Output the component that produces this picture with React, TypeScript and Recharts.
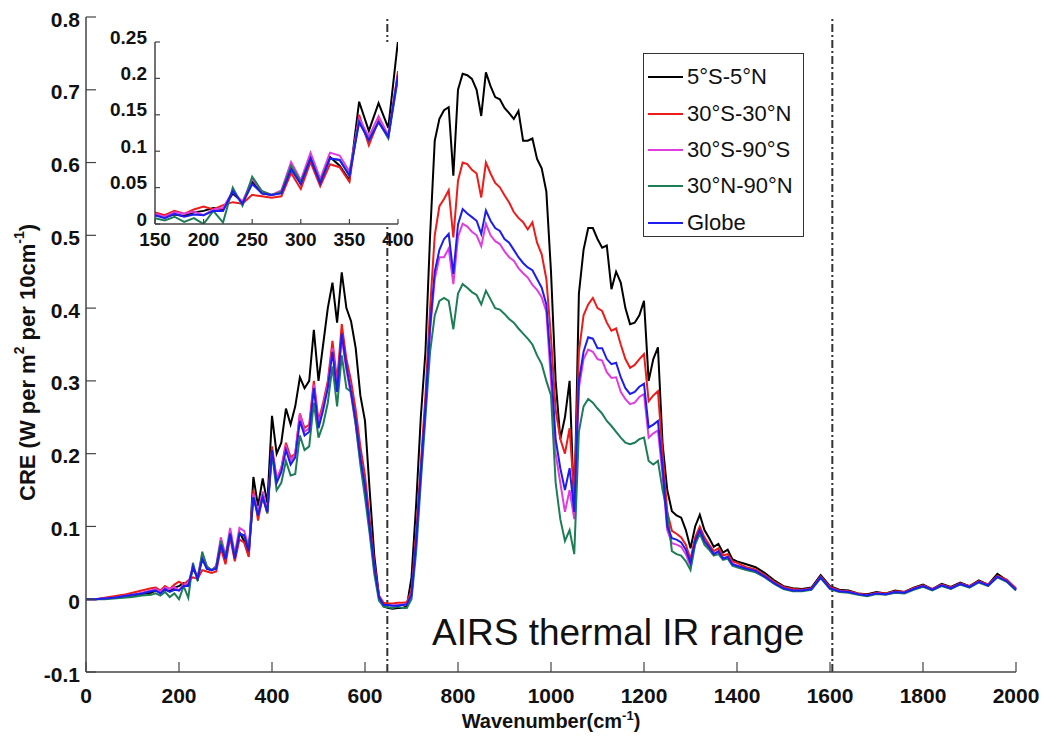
import React from 'react';
import { LineChart, Line, XAxis, YAxis, ReferenceLine, Legend, CartesianGrid, Label } from 'recharts';

const FONT = '"Liberation Sans", Arial, Helvetica, sans-serif';

const wavenumber = [
  0, 20, 40, 60, 80, 100, 120, 140,
  150, 160, 170, 180, 190, 200, 210, 220, 230, 240, 250, 260, 270, 280, 290, 300, 310, 320, 330, 340, 350, 360, 370, 380, 390, 400,
  410, 420, 430, 440, 450, 460, 470, 480, 490, 500, 510, 520, 530, 540, 550, 560, 570, 580, 590, 600, 610, 620, 630, 640,
  650, 660, 670, 680, 690, 700, 710, 720, 730, 740, 750, 760,
  770, 780, 790, 800, 810, 820, 830, 840, 850, 860, 870, 880, 890, 900, 910, 920, 930, 940, 950, 960, 970, 980, 990, 1000,
  1010, 1020, 1030, 1040, 1050, 1060, 1070, 1080,
  1090, 1100, 1110, 1120, 1130, 1140, 1150, 1160, 1170, 1180, 1190, 1200, 1210, 1220, 1230, 1240, 1250, 1260, 1270, 1280, 1290, 1300, 1310, 1320, 1330, 1340,
  1350, 1360, 1370, 1380, 1390, 1400,
  1420, 1440, 1460, 1480, 1500, 1520, 1540, 1560, 1580, 1600, 1620, 1640, 1660, 1680, 1700, 1720, 1740, 1760, 1780, 1800, 1820, 1840, 1860, 1880, 1900, 1920, 1940, 1960, 1980, 2000,
];

const tropics5S5N = [
  0, 0, 0.001, 0.002, 0.003, 0.005, 0.007, 0.009,
  0.012, 0.010, 0.013, 0.011, 0.016, 0.018, 0.022, 0.020, 0.042, 0.030, 0.058, 0.042, 0.040, 0.044, 0.078, 0.055, 0.092, 0.058, 0.092, 0.080, 0.060, 0.168, 0.128, 0.166, 0.132, 0.252,
  0.200, 0.215, 0.262, 0.240, 0.265, 0.305, 0.290, 0.300, 0.370, 0.300, 0.350, 0.400, 0.435, 0.380, 0.449, 0.400, 0.382, 0.345, 0.280, 0.245, 0.150, 0.060, 0.005, -0.010,
  -0.012, -0.013, -0.012, -0.012, -0.010, 0.030, 0.130, 0.250, 0.340, 0.500, 0.630, 0.660,
  0.672, 0.676, 0.582, 0.700, 0.722, 0.720, 0.715, 0.700, 0.664, 0.724, 0.705, 0.690, 0.687, 0.675, 0.668, 0.660, 0.671, 0.630, 0.630, 0.633, 0.605, 0.592, 0.560, 0.450,
  0.300, 0.220, 0.250, 0.300, 0.120, 0.420, 0.480, 0.510,
  0.510, 0.495, 0.483, 0.486, 0.426, 0.450, 0.435, 0.400, 0.378, 0.380, 0.390, 0.410, 0.300, 0.330, 0.346, 0.213, 0.150, 0.121, 0.115, 0.112, 0.095, 0.070, 0.100, 0.116, 0.095, 0.084,
  0.072, 0.076, 0.064, 0.068, 0.055, 0.052,
  0.048, 0.044, 0.036, 0.026, 0.018, 0.015, 0.014, 0.016, 0.033, 0.018, 0.013, 0.012, 0.008, 0.007, 0.010, 0.008, 0.012, 0.010, 0.016, 0.020, 0.014, 0.021, 0.017, 0.023, 0.018, 0.026, 0.020, 0.035, 0.026, 0.014,
];

const tropics30S30N = [
  0, 0, 0.002, 0.004, 0.006, 0.009, 0.012, 0.015,
  0.016, 0.012, 0.018, 0.014, 0.020, 0.024, 0.020, 0.026, 0.030, 0.028, 0.040, 0.038, 0.036, 0.038, 0.070, 0.048, 0.085, 0.052, 0.082, 0.078, 0.058, 0.150, 0.108, 0.142, 0.118, 0.210,
  0.165, 0.180, 0.215, 0.195, 0.200, 0.255, 0.235, 0.240, 0.300, 0.245, 0.270, 0.300, 0.355, 0.300, 0.378, 0.330, 0.300, 0.260, 0.210, 0.170, 0.110, 0.050, 0.005, -0.005,
  -0.006, -0.006, -0.005, -0.005, -0.004, 0.012, 0.090, 0.185, 0.280, 0.400, 0.500, 0.540,
  0.550, 0.562, 0.497, 0.575, 0.600, 0.598, 0.590, 0.585, 0.552, 0.600, 0.585, 0.572, 0.566, 0.555, 0.545, 0.532, 0.524, 0.518, 0.508, 0.518, 0.490, 0.474, 0.440, 0.360,
  0.260, 0.220, 0.200, 0.235, 0.140, 0.340, 0.390, 0.405,
  0.414, 0.400, 0.396, 0.380, 0.369, 0.372, 0.350, 0.330, 0.318, 0.322, 0.330, 0.337, 0.272, 0.280, 0.286, 0.200, 0.120, 0.094, 0.090, 0.085, 0.075, 0.055, 0.085, 0.100, 0.085, 0.075,
  0.066, 0.070, 0.060, 0.062, 0.052, 0.050,
  0.044, 0.041, 0.033, 0.024, 0.017, 0.014, 0.013, 0.015, 0.031, 0.017, 0.012, 0.011, 0.008, 0.006, 0.009, 0.008, 0.011, 0.010, 0.015, 0.019, 0.014, 0.020, 0.016, 0.022, 0.018, 0.025, 0.020, 0.032, 0.027, 0.015,
];

const south30S90S = [
  0, 0, 0.001, 0.002, 0.004, 0.006, 0.009, 0.012,
  0.014, 0.010, 0.016, 0.014, 0.017, 0.012, 0.020, 0.022, 0.045, 0.030, 0.062, 0.045, 0.040, 0.046, 0.085, 0.060, 0.098, 0.062, 0.098, 0.094, 0.072, 0.145, 0.120, 0.148, 0.122, 0.205,
  0.165, 0.180, 0.210, 0.190, 0.200, 0.255, 0.230, 0.235, 0.295, 0.240, 0.265, 0.295, 0.345, 0.290, 0.360, 0.315, 0.280, 0.240, 0.190, 0.150, 0.095, 0.040, 0.002, -0.008,
  -0.008, -0.009, -0.008, -0.008, -0.007, 0.005, 0.075, 0.170, 0.260, 0.370, 0.440, 0.470,
  0.470, 0.482, 0.433, 0.498, 0.516, 0.512, 0.505, 0.500, 0.485, 0.516, 0.500, 0.492, 0.488, 0.478, 0.470, 0.465, 0.455, 0.448, 0.442, 0.432, 0.425, 0.415, 0.395, 0.300,
  0.200, 0.160, 0.120, 0.150, 0.110, 0.290, 0.330, 0.343,
  0.340, 0.330, 0.328, 0.312, 0.304, 0.305, 0.285, 0.275, 0.268, 0.270, 0.278, 0.282, 0.222, 0.228, 0.232, 0.170, 0.095, 0.077, 0.075, 0.072, 0.062, 0.045, 0.078, 0.092, 0.078, 0.070,
  0.062, 0.065, 0.056, 0.058, 0.049, 0.046,
  0.042, 0.039, 0.031, 0.022, 0.015, 0.012, 0.012, 0.014, 0.030, 0.015, 0.011, 0.010, 0.007, 0.005, 0.008, 0.007, 0.010, 0.009, 0.014, 0.018, 0.013, 0.019, 0.015, 0.021, 0.017, 0.024, 0.019, 0.031, 0.025, 0.013,
];

const north30N90N = [
  0, 0, 0, 0.001, 0.002, 0.003, 0.005, 0.006,
  0.008, 0.005, 0.010, 0.003, 0.008, 0.000, 0.018, 0.002, 0.050, 0.025, 0.065, 0.045, 0.040, 0.044, 0.080, 0.058, 0.090, 0.058, 0.090, 0.088, 0.068, 0.140, 0.115, 0.140, 0.118, 0.200,
  0.150, 0.160, 0.190, 0.170, 0.172, 0.225, 0.205, 0.210, 0.270, 0.222, 0.240, 0.270, 0.320, 0.265, 0.335, 0.290, 0.285, 0.240, 0.185, 0.140, 0.090, 0.035, -0.002, -0.010,
  -0.011, -0.012, -0.010, -0.012, -0.012, 0.000, 0.065, 0.160, 0.250, 0.340, 0.390, 0.410,
  0.414, 0.410, 0.371, 0.420, 0.433, 0.428, 0.422, 0.418, 0.405, 0.424, 0.412, 0.400, 0.398, 0.392, 0.385, 0.380, 0.372, 0.365, 0.358, 0.350, 0.335, 0.323, 0.300, 0.280,
  0.160, 0.110, 0.080, 0.095, 0.062, 0.230, 0.265, 0.275,
  0.270, 0.262, 0.255, 0.245, 0.238, 0.230, 0.222, 0.215, 0.213, 0.215, 0.220, 0.222, 0.190, 0.185, 0.190, 0.150, 0.120, 0.066, 0.062, 0.060, 0.052, 0.040, 0.075, 0.090, 0.075, 0.068,
  0.060, 0.062, 0.054, 0.056, 0.046, 0.044,
  0.040, 0.037, 0.030, 0.021, 0.014, 0.011, 0.011, 0.013, 0.029, 0.014, 0.010, 0.009, 0.006, 0.004, 0.007, 0.006, 0.009, 0.008, 0.013, 0.017, 0.012, 0.018, 0.014, 0.020, 0.016, 0.023, 0.018, 0.030, 0.024, 0.012,
];

const globe = [
  0, 0, 0.001, 0.002, 0.004, 0.006, 0.008, 0.011,
  0.012, 0.008, 0.014, 0.010, 0.013, 0.012, 0.018, 0.018, 0.045, 0.028, 0.055, 0.042, 0.040, 0.042, 0.075, 0.055, 0.090, 0.056, 0.090, 0.088, 0.066, 0.140, 0.115, 0.140, 0.120, 0.205,
  0.160, 0.175, 0.205, 0.185, 0.195, 0.245, 0.225, 0.230, 0.290, 0.235, 0.260, 0.290, 0.340, 0.285, 0.365, 0.320, 0.285, 0.245, 0.195, 0.155, 0.100, 0.045, 0.003, -0.008,
  -0.008, -0.009, -0.009, -0.008, -0.007, 0.006, 0.080, 0.175, 0.265, 0.375, 0.450, 0.480,
  0.495, 0.502, 0.447, 0.515, 0.536, 0.530, 0.525, 0.520, 0.502, 0.534, 0.520, 0.510, 0.506, 0.495, 0.490, 0.480, 0.470, 0.462, 0.456, 0.452, 0.440, 0.428, 0.405, 0.320,
  0.220, 0.180, 0.150, 0.180, 0.120, 0.300, 0.340, 0.360,
  0.358, 0.345, 0.345, 0.330, 0.323, 0.325, 0.305, 0.290, 0.282, 0.285, 0.292, 0.296, 0.236, 0.240, 0.245, 0.180, 0.100, 0.084, 0.082, 0.078, 0.068, 0.050, 0.080, 0.095, 0.080, 0.072,
  0.062, 0.066, 0.056, 0.058, 0.048, 0.046,
  0.042, 0.039, 0.031, 0.022, 0.015, 0.012, 0.012, 0.014, 0.030, 0.015, 0.011, 0.010, 0.007, 0.005, 0.008, 0.007, 0.010, 0.009, 0.014, 0.018, 0.013, 0.019, 0.015, 0.021, 0.017, 0.024, 0.019, 0.031, 0.025, 0.013,
];

const seriesKeys = ['s1', 's2', 's3', 's4', 's5'];
const seriesNames = ['5°S-5°N', '30°S-30°N', '30°S-90°S', '30°N-90°N', 'Globe'];
const seriesColors = ['#000000', '#ee1b1b', '#e03ce0', '#1d7d55', '#1d1def'];
const seriesValues = [tropics5S5N, tropics30S30N, south30S90S, north30N90N, globe];

const mainXTicks = [0, 200, 400, 600, 800, 1000, 1200, 1400, 1600, 1800, 2000];
const mainYTicks = [-0.1, 0, 0.1, 0.2, 0.3, 0.4, 0.5, 0.6, 0.7, 0.8];
const insetXTicks = [150, 200, 250, 300, 350, 400];
const insetYTicks = [0, 0.05, 0.1, 0.15, 0.2, 0.25];
const rangeBoundaries = [648, 1605];
const annotationText = 'AIRS thermal IR range';

const rows = wavenumber.map((wn, i) => {
  const r: any = { wn };
  seriesKeys.forEach((k, j) => { r[k] = seriesValues[j][i]; });
  return r;
});
const insetRows = rows.filter((r) => r.wn >= 150 && r.wn <= 400);

const AXIS = '#444';
const fmt = (v: number) => (v === 0 ? '0' : String(v));

const makeBottomTick = (len: number, fs: number, gap: number) => (p: any) => (
  <g>
    <line x1={p.x} x2={p.x} y1={p.y} y2={p.y - len} stroke={AXIS} strokeWidth={1.2} />
    <text x={p.x} y={p.y + gap} textAnchor="middle" dominantBaseline="central" fontSize={fs} fontWeight="bold" fontFamily={FONT} fill="#111">{fmt(p.payload.value)}</text>
  </g>
);
const makeLeftTick = (len: number, fs: number, gap: number, dy: number) => (p: any) => (
  <g>
    <line x1={p.x} x2={p.x + len} y1={p.y} y2={p.y} stroke={AXIS} strokeWidth={1.2} />
    <text x={p.x - gap} y={p.y + dy} textAnchor="end" dominantBaseline="central" fontSize={fs} fontWeight="bold" fontFamily={FONT} fill="#111">{fmt(p.payload.value)}</text>
  </g>
);
const makeTopTick = (len: number) => (p: any) => (
  <line x1={p.x} x2={p.x} y1={p.y} y2={p.y + len} stroke={AXIS} strokeWidth={1.2} />
);
const makeRightTick = (len: number) => (p: any) => (
  <line x1={p.x} x2={p.x - len} y1={p.y} y2={p.y} stroke={AXIS} strokeWidth={1.2} />
);

const LegendBox = () => (
  <div style={{ width: 161, height: 184, boxSizing: 'border-box', border: '1.5px solid #333', background: '#fff', paddingTop: 5, fontFamily: FONT }}>
    {seriesNames.map((n, i) => (
      <div key={n} style={{ display: 'flex', alignItems: 'center', height: 36.4 }}>
        <span style={{ display: 'inline-block', width: 35, marginLeft: 4, marginRight: 4, borderTop: `2px solid ${seriesColors[i]}` }} />
        <span style={{ fontSize: 22, color: '#111', whiteSpace: 'nowrap' }}>{n}</span>
      </div>
    ))}
  </div>
);

const XTitle = (props: any) => {
  const vb = props.viewBox;
  return (
    <text x={vb.x + vb.width / 2} y={vb.y + 56} textAnchor="middle" fontSize={20} fontWeight="bold" fontFamily={FONT} fill="#111">
      Wavenumber(cm<tspan fontSize={13} dy={-8}>-1</tspan><tspan dy={8}>)</tspan>
    </text>
  );
};

const YTitle = (props: any) => {
  const vb = props.viewBox;
  const cx = 27;
  const cy = vb.y + vb.height / 2 + 18;
  return (
    <text x={cx} y={cy} transform={`rotate(-90 ${cx} ${cy})`} textAnchor="middle" dominantBaseline="central" fontSize={22} fontWeight="bold" fontFamily={FONT} fill="#111">
      CRE (W per m<tspan fontSize={14} dy={-8}>2</tspan><tspan dy={8}> per 10cm</tspan><tspan fontSize={14} dy={-8}>-1</tspan><tspan dy={8}>)</tspan>
    </text>
  );
};

export default function App() {
  return (
    <div style={{ position: 'absolute', left: 0, top: 0, width: 1046, height: 736, background: '#fff', fontFamily: FONT }}>
      <LineChart width={1046} height={736} data={rows} margin={{ top: 17, right: 30, bottom: 24, left: 26 }}>
        <XAxis dataKey="wn" type="number" domain={[0, 2000]} ticks={mainXTicks} height={40} tickSize={0} tickMargin={0} stroke={AXIS} strokeWidth={1.5} tick={makeBottomTick(10, 21, 23)} interval={0}>
          <Label content={XTitle} />
        </XAxis>
        <XAxis xAxisId="top" orientation="top" type="number" domain={[0, 2000]} ticks={mainXTicks} height={0} tickSize={0} tickMargin={0} stroke={AXIS} strokeWidth={1.5} tick={makeTopTick(10)} interval={0} />
        <YAxis type="number" domain={[-0.1, 0.8]} ticks={mainYTicks} width={60} tickSize={0} tickMargin={0} stroke={AXIS} strokeWidth={1.5} tick={makeLeftTick(10, 21, 6, 2)} interval={0}>
          <Label content={YTitle} />
        </YAxis>
        <YAxis yAxisId="right" orientation="right" type="number" domain={[-0.1, 0.8]} ticks={mainYTicks} width={0} tickSize={0} tickMargin={0} stroke={AXIS} strokeWidth={1.5} tick={makeRightTick(10)} interval={0} />
        {rangeBoundaries.map((b) => (
          <ReferenceLine key={b} x={b} stroke="#333" strokeWidth={2} strokeDasharray="8 3 2 3" />
        ))}
        {seriesKeys.map((k, i) => (
          <Line key={k} dataKey={k} name={seriesNames[i]} stroke={seriesColors[i]} strokeWidth={2} dot={false} isAnimationActive={false} />
        ))}
        <Legend layout="vertical" align="center" verticalAlign="middle" wrapperStyle={{ left: 643, top: 53, width: 161, height: 184 }} content={() => <LegendBox />} />
      </LineChart>

      <div style={{ position: 'absolute', left: 432, top: 614, fontSize: 37, lineHeight: '37px', color: '#111', whiteSpace: 'nowrap', fontFamily: FONT }}>
        {annotationText}
      </div>

      <div style={{ position: 'absolute', left: 100, top: 28 }}>
        <LineChart width={330} height={230} data={insetRows} margin={{ top: 14, right: 32, bottom: 0, left: 0 }}>
          <CartesianGrid fill="#fff" horizontal={false} vertical={false} />
          <XAxis dataKey="wn" type="number" domain={[150, 400]} ticks={insetXTicks} height={34} tickSize={0} tickMargin={0} stroke={AXIS} strokeWidth={1.5} tick={makeBottomTick(5, 19, 15)} interval={0} allowDataOverflow />
          <XAxis xAxisId="top" orientation="top" type="number" domain={[150, 400]} ticks={insetXTicks} height={0} tickSize={0} tickMargin={0} stroke={AXIS} strokeWidth={1.5} tick={makeTopTick(5)} interval={0} />
          <YAxis type="number" domain={[0, 0.25]} ticks={insetYTicks} width={55} tickSize={0} tickMargin={0} stroke={AXIS} strokeWidth={1.5} tick={makeLeftTick(5, 19, 8, -5)} interval={0} allowDataOverflow />
          <YAxis yAxisId="right" orientation="right" type="number" domain={[0, 0.25]} ticks={insetYTicks} width={0} tickSize={0} tickMargin={0} stroke={AXIS} strokeWidth={1.5} tick={makeRightTick(5)} interval={0} />
          {seriesKeys.map((k, i) => (
            <Line key={k} dataKey={k} name={seriesNames[i]} stroke={seriesColors[i]} strokeWidth={2} dot={false} isAnimationActive={false} />
          ))}
        </LineChart>
      </div>
    </div>
  );
}
